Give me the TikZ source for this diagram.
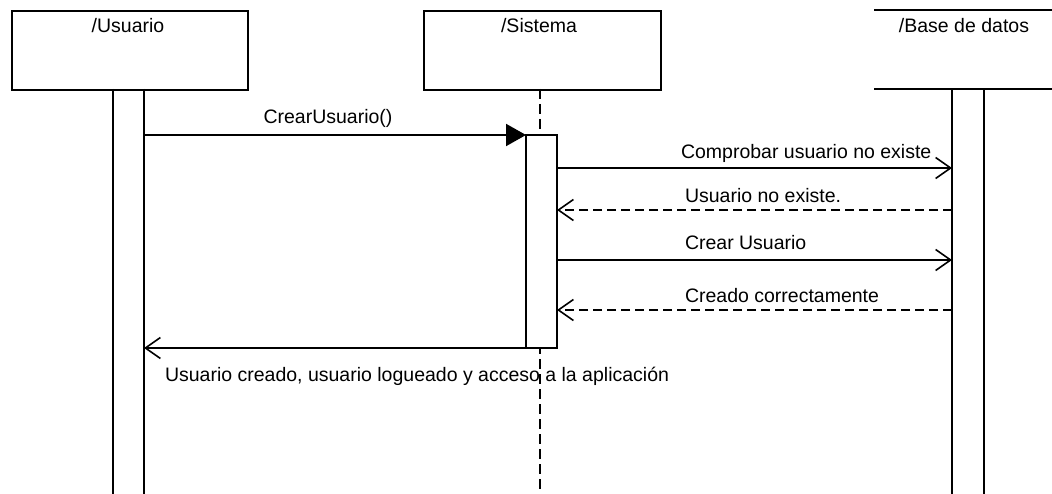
\documentclass[tikz,border=0pt]{standalone}
\usepackage{fontspec}
\setmainfont{Liberation Sans}
\usetikzlibrary{arrows.meta}
\begin{document}
\begin{tikzpicture}[x=1pt,y=-1pt,line width=2pt,
  lbl/.style={font=\fontsize{19.5}{21}\selectfont,inner sep=0pt},
  headbox/.style={draw,line width=2.2pt,anchor=north west,minimum height=79pt,inner sep=0pt},
  openhead/.style={-{Straight Barb[length=15pt,width=21pt,line width=1.6pt]}},
  reply/.style={openhead,dash pattern=on 9pt off 5pt},
  lifedash/.style={line width=2.8pt,dash pattern=on 10pt off 5pt}]
\useasboundingbox (0,0) rectangle (1052,494);
% headers
\node[headbox,minimum width=236pt] (usr) at (11,10) {};
\node[headbox,minimum width=237pt] (sys) at (423,10) {};
\coordinate (dbtl) at (874,10);
\coordinate (dbtr) at (1060,10);
\coordinate (dbbl) at (874,89);
\coordinate (dbbr) at (1060,89);
\draw[line width=1.4pt] (dbtl) -- (dbtr);
\draw[line width=2.8pt] (dbbl) -- (dbbr);
\node[lbl] (tusr) at (128,26) {/Usuario};
\node[lbl] (tsys) at (539,26) {/Sistema};
\node[lbl] (tdb) at (964,26) {/Base de datos};
% lifelines
\coordinate (ul1) at (113,89); \coordinate (ul1b) at (113,500);
\coordinate (ul2) at (144,89); \coordinate (ul2b) at (144,500);
\draw (ul1) -- (ul1b);
\draw (ul2) -- (ul2b);
\coordinate (dl1) at (952,89); \coordinate (dl1b) at (952,500);
\coordinate (dl2) at (984,89); \coordinate (dl2b) at (984,500);
\draw (dl1) -- (dl1b);
\draw (dl2) -- (dl2b);
\coordinate (sl) at (540,89); \coordinate (slb) at (540,500);
\draw[lifedash] (sl) -- (slb);
% activation
\node[draw,fill=white,line width=1.8pt,anchor=north west,minimum width=31pt,minimum height=213pt,inner sep=0pt,outer sep=0pt] (act) at (526,135) {};
% messages
\coordinate (m1a) at (144,135);
\draw[-{Triangle[length=20pt,width=22pt]}] (m1a) -- (act.north west);
\node[lbl] (l1) at (328,118) {CrearUsuario()};
\coordinate (m2a) at (557,168); \coordinate (m2b) at (952,168);
\draw[openhead] (m2a) -- (m2b);
\node[lbl,anchor=west] (l2) at (680,153) {Comprobar usuario no existe};
\coordinate (m3a) at (952,210); \coordinate (m3b) at (557,210);
\draw[reply] (m3a) -- (m3b);
\node[lbl,anchor=west] (l3) at (684,196) {Usuario no existe.};
\coordinate (m4a) at (557,260); \coordinate (m4b) at (952,260);
\draw[openhead] (m4a) -- (m4b);
\node[lbl,anchor=west] (l4) at (684,243) {Crear Usuario};
\coordinate (m5a) at (952,310); \coordinate (m5b) at (557,310);
\draw[reply] (m5a) -- (m5b);
\node[lbl,anchor=west] (l5) at (684,296) {Creado correctamente};
\coordinate (m6b) at (144,348);
\draw[openhead] (act.south east) -- (m6b);
\node[lbl,anchor=west] (l6) at (164,376) {Usuario creado, usuario logueado y acceso a la aplicación};
\end{tikzpicture}
\end{document}
